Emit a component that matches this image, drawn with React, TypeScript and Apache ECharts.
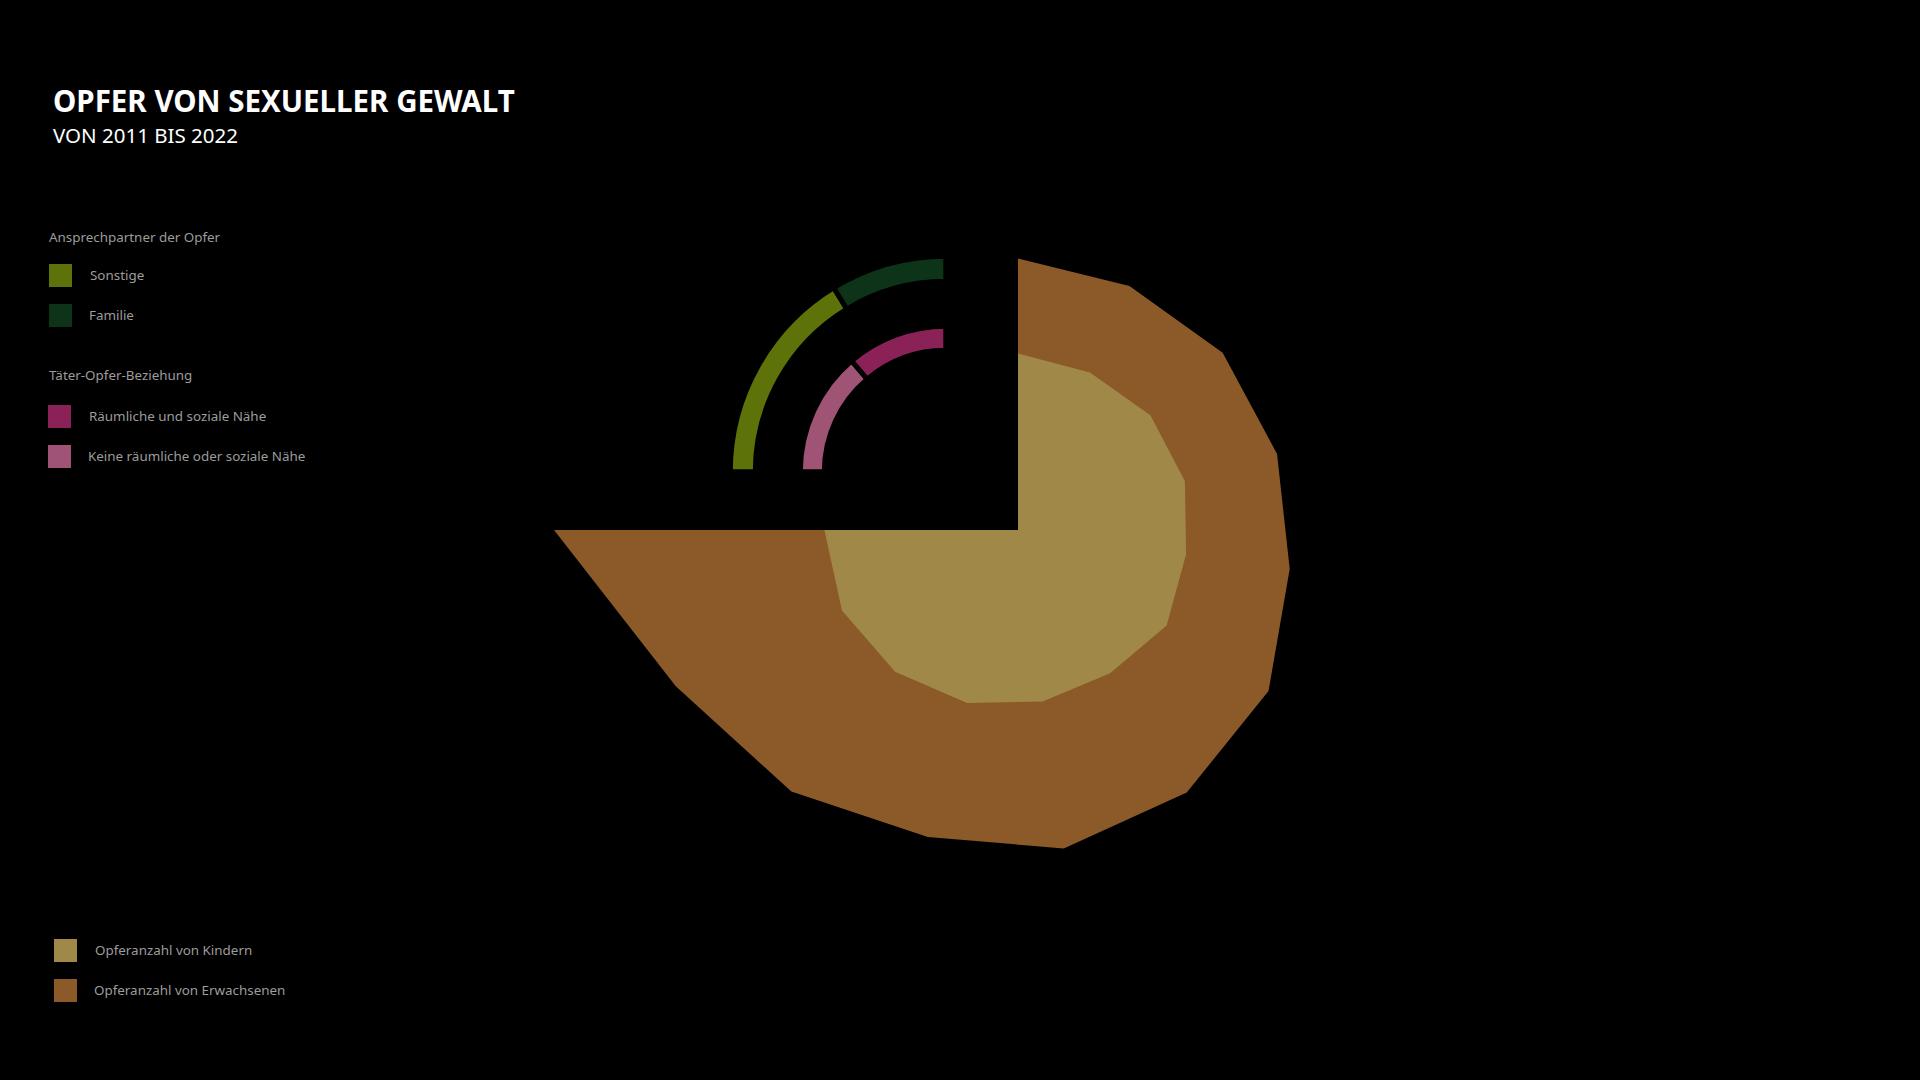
import React, { useEffect, useRef } from "react";
import * as echarts from "echarts";

// ---- data ----
const years = ["2011", "2012", "2013", "2014", "2015", "2016", "2017", "2018", "2019", "2020", "2021", "2022"];
const opferKinder = [17650, 17320, 17520, 17390, 16980, 17670, 17040, 17320, 18040, 18770, 19350, 19360];
const opferErwachsene = [27160, 26830, 27080, 27000, 27450, 29780, 31210, 32170, 32000, 34610, 37620, 46400];

const ansprechNames = ["Sonstige", "Familie"];
const ansprechValues = [65.2, 34.8];
const beziehungNames = ["Keine räumliche oder soziale Nähe", "Räumliche und soziale Nähe"];
const beziehungValues = [55.2, 44.8];

const titleText = "OPFER VON SEXUELLER GEWALT";
const subtitleText = "VON 2011 BIS 2022";
const ansprechTitle = "Ansprechpartner der Opfer";
const beziehungTitle = "Täter-Opfer-Beziehung";
const seriesNames = ["Opferanzahl von Kindern", "Opferanzahl von Erwachsenen"];

// ---- styles ----
const C_KINDER = "#A08948";
const C_ERW = "#8B5A28";
const C_SONST = "#5D7309";
const C_FAM = "#0D3418";
const C_RAEUM = "#8A2257";
const C_KEINE = "#A05475";
const FONT = "'Noto Sans', sans-serif";
const LEG_TEXT = "#9c9c9c";
const LEG_FONT = `13.4px ${FONT}`;

export default function App() {
  const ref = useRef<HTMLDivElement>(null);
  useEffect(() => {
    if (!ref.current) return;
    const chart = echarts.init(ref.current, null, { renderer: "svg" });

    const legendItem = (x: number, y: number, color: string, label: string, tx: number) => [
      { type: "rect", shape: { x, y, width: 23, height: 23 }, style: { fill: color } },
      {
        type: "text",
        x: tx,
        y: y + 11,
        style: { text: label, fill: LEG_TEXT, font: LEG_FONT, textAlign: "left", textVerticalAlign: "middle" },
      },
    ];

    chart.setOption({
      animation: false,
      backgroundColor: "#000",
      polar: { center: [1018, 530], radius: 500 },
      angleAxis: {
        type: "value",
        min: 0,
        max: years.length - 1,
        startAngle: 90,
        endAngle: -180,
        axisLine: { show: false },
        axisTick: { show: false },
        axisLabel: { show: false },
        splitLine: { show: false },
      },
      radiusAxis: {
        type: "value",
        min: 0,
        max: 50000,
        axisLine: { show: false },
        axisTick: { show: false },
        axisLabel: { show: false },
        splitLine: { show: false },
      },
      series: [
        {
          name: seriesNames[1],
          type: "line",
          coordinateSystem: "polar",
          data: opferErwachsene.map((v, i) => [v, i]),
          symbol: "none",
          lineStyle: { width: 0 },
          areaStyle: { color: C_ERW, opacity: 1 },
          silent: true,
          z: 1,
        },
        {
          name: seriesNames[0],
          type: "line",
          coordinateSystem: "polar",
          data: opferKinder.map((v, i) => [v, i]),
          symbol: "none",
          lineStyle: { width: 0 },
          areaStyle: { color: C_KINDER, opacity: 1 },
          silent: true,
          z: 2,
        },
        {
          name: ansprechTitle,
          type: "pie",
          center: [945.8, 471.8],
          radius: [190.5, 215.5],
          startAngle: 180,
          endAngle: 90,
          clockwise: true,
          silent: true,
          label: { show: false },
          labelLine: { show: false },
          itemStyle: { borderColor: "#000", borderWidth: 5 },
          data: ansprechNames.map((n, i) => ({ name: n, value: ansprechValues[i], itemStyle: { color: [C_SONST, C_FAM][i] } })),
        },
        {
          name: beziehungTitle,
          type: "pie",
          center: [945.8, 471.8],
          radius: [121.5, 145.5],
          startAngle: 180,
          endAngle: 90,
          clockwise: true,
          silent: true,
          label: { show: false },
          labelLine: { show: false },
          itemStyle: { borderColor: "#000", borderWidth: 5 },
          data: beziehungNames.map((n, i) => ({ name: n, value: beziehungValues[i], itemStyle: { color: [C_KEINE, C_RAEUM][i] } })),
        },
      ],
      graphic: [
        {
          type: "text",
          x: 53,
          y: 100.5,
          style: { text: titleText, fill: "#fff", font: `bold 29.5px ${FONT}`, textAlign: "left", textVerticalAlign: "middle" },
        },
        {
          type: "text",
          x: 53,
          y: 134.5,
          style: { text: subtitleText, fill: "#fff", font: `20.5px ${FONT}`, textAlign: "left", textVerticalAlign: "middle" },
        },
        {
          type: "text",
          x: 49,
          y: 237,
          style: { text: ansprechTitle, fill: LEG_TEXT, font: LEG_FONT, textAlign: "left", textVerticalAlign: "middle" },
        },
        ...legendItem(49, 264, C_SONST, ansprechNames[0], 90),
        ...legendItem(49, 304, C_FAM, ansprechNames[1], 89),
        {
          type: "text",
          x: 49,
          y: 375,
          style: { text: beziehungTitle, fill: LEG_TEXT, font: LEG_FONT, textAlign: "left", textVerticalAlign: "middle" },
        },
        ...legendItem(48, 405, C_RAEUM, beziehungNames[1], 89),
        ...legendItem(48, 445, C_KEINE, beziehungNames[0], 88),
        ...legendItem(54, 939, C_KINDER, seriesNames[0], 95),
        ...legendItem(54, 979, C_ERW, seriesNames[1], 94),
      ],
    });
    return () => chart.dispose();
  }, []);

  return (
    <div
      ref={ref}
      style={{ position: "fixed", left: 0, top: 0, width: 1920, height: 1080, background: "#000" }}
    />
  );
}
